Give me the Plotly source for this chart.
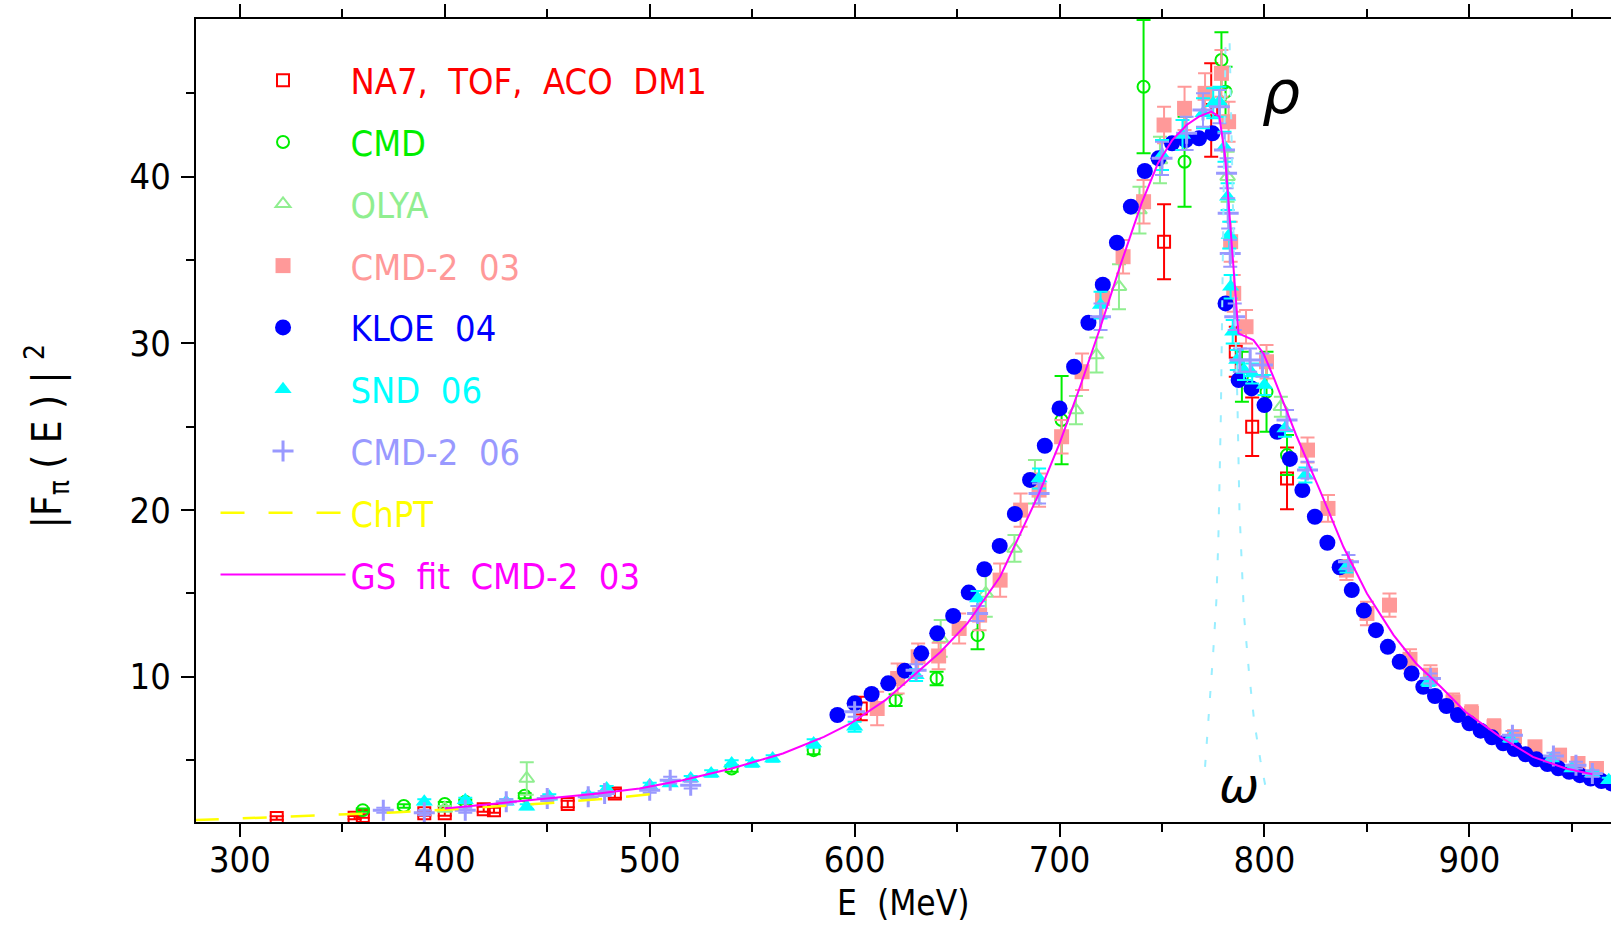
import plotly.graph_objects as go

FONT = "Liberation Sans Narrow, DejaVu Sans Condensed, Arial Narrow, Liberation Sans, sans-serif"

# ---------------- data (E in MeV, |F_pi|^2) ----------------
na7_E = [318, 356, 360, 390, 400, 419, 424, 460, 483, 603, 751, 774, 786, 794, 811]
na7_V = [1.53, 1.55, 1.65, 1.81, 1.81, 2.05, 2.0, 2.37, 3.0, 8.1, 36.1, 44.0, 29.5, 25.0, 21.9]
na7_err = [0.1, 0.1, 0.1, 0.15, 0.15, 0.15, 0.15, 0.2, 0.25, 0.7, 2.25, 2.8, 1.5, 1.75, 1.85]

cmd_E = [360, 380, 400, 410, 439, 540, 580, 620, 640, 660, 701, 741, 761, 779, 781, 789, 801, 811]
cmd_V = [2.0, 2.25, 2.37, 2.5, 2.87, 4.5, 5.6, 8.6, 9.9, 12.5, 25.4, 45.4, 40.9, 47.0, 45.1, 28.0, 27.1, 23.3]
cmd_err = [0.1, 0.1, 0.12, 0.12, 0.15, 0.2, 0.25, 0.35, 0.4, 0.85, 2.65, 4.0, 2.7, 1.66, 1.5, 1.5, 2.4, 1.2]

olya_E = [400, 440, 642, 664, 678, 688, 708, 718, 729, 739, 749, 782, 808]
olya_V = [2.1, 3.9, 12.3, 15.0, 17.7, 21.7, 26.0, 29.3, 33.4, 38.0, 41.0, 40.0, 26.2]
olya_err = [0.15, 0.97, 1.1, 1.4, 0.8, 1.3, 0.85, 1.05, 1.35, 1.4, 1.4, 1.5, 0.6]

cmd203_E = [611, 621, 631, 641, 651, 661, 671, 681, 690, 701, 711, 721, 731, 741, 751, 761, 771,
            779, 782.5, 783.5, 785, 791, 801, 821, 831, 840, 850, 861, 871, 881, 892, 901, 912,
            922, 932, 944, 953, 962]
cmd203_V = [8.1, 9.9, 11.2, 11.25, 12.9, 13.7, 15.8, 20.0, 21.2, 24.4, 28.3, 32.7, 35.2, 38.5,
            43.1, 44.1, 45.0, 46.2, 43.3, 36.1, 33.0, 31.0, 28.9, 23.6, 20.1, 16.4, 13.8, 14.3,
            11.05, 10.1, 8.5, 7.8, 7.0, 6.4, 5.8, 5.3, 4.8, 4.5]
cmd203_err = [1.0, 0.9, 0.8, 0.8, 0.9, 0.9, 1.0, 1.0, 1.0, 1.0, 1.1, 1.1, 1.0, 1.3, 1.1, 1.3,
              1.2, 1.4, 1.2, 1.2, 1.1, 1.0, 1.0, 0.75, 0.8, 0.6, 0.7, 0.7, 0.6, 0.6, 0.5, 0.5,
              0.45, 0.4, 0.35, 0.35, 0.3, 0.3]

kloe_E = [591.6, 600.0, 608.3, 616.4, 624.5, 632.5, 640.3, 648.1, 655.7, 663.3, 670.8, 678.2,
          685.6, 692.8, 700.0, 707.1, 714.1, 721.1, 728.0, 734.8, 741.6, 748.3, 754.9, 761.6,
          768.1, 774.6, 781.0, 787.4, 793.7, 800.0, 806.2, 812.4, 818.5, 824.6, 830.7, 836.7,
          842.6, 848.5, 854.4, 860.2, 866.0, 871.8, 877.5, 883.2, 888.8, 894.4, 900.0, 905.5,
          911.0, 916.5, 922.0, 927.4, 932.7, 938.1, 943.4, 948.7, 953.9, 959.2, 964.4, 969.5]
kloe_V = [7.71, 8.41, 8.97, 9.61, 10.37, 11.41, 12.61, 13.65, 15.05, 16.45, 17.85, 19.77,
          21.81, 23.86, 26.1, 28.6, 31.24, 33.52, 36.04, 38.2, 40.34, 41.1, 42.0, 42.2,
          42.3, 42.6, 32.4, 27.8, 27.3, 26.3, 24.7, 23.07, 21.2, 19.6, 18.04, 16.57,
          15.2, 13.97, 12.8, 11.8, 10.9, 10.2, 9.4, 8.85, 8.25, 7.71, 7.21, 6.77,
          6.37, 6.01, 5.67, 5.35, 5.05, 4.77, 4.51, 4.3, 4.1, 3.9, 3.75, 3.6]

snd_E = [390, 410, 430, 440, 451, 470, 479, 500, 510, 520, 530, 540, 550, 560, 580, 600, 630,
         660, 690, 720, 750, 760, 770, 775, 778, 780.5, 782, 782.8, 783.5, 784.5, 786.5, 790,
         794, 800, 810, 820, 840, 880, 920, 940, 950, 960, 968]
snd_V = [2.5, 2.6, 2.5, 2.2, 2.8, 2.9, 3.3, 3.5, 3.6, 3.9, 4.2, 4.8, 4.8, 5.1, 6.0, 7.0, 10.1,
         14.7, 21.9, 32.3, 41.3, 42.5, 43.8, 44.4, 44.5, 41.8, 38.8, 36.5, 33.4, 30.7, 29.0,
         28.4, 28.2, 27.5, 24.9, 22.1, 16.6, 9.7, 6.3, 5.1, 4.5, 4.2, 3.8]
snd_err = [0.15, 0.15, 0.15, 0.15, 0.15, 0.15, 0.15, 0.15, 0.15, 0.15, 0.2, 0.2, 0.2, 0.2,
           0.25, 0.3, 0.35, 0.45, 0.6, 0.8, 0.9, 0.9, 0.9, 0.9, 0.9, 0.9, 0.8, 0.8, 0.7, 0.7,
           0.6, 0.6, 0.6, 0.6, 0.5, 0.45, 0.35, 0.25, 0.2, 0.15, 0.15, 0.15, 0.15]

cmd206_E = [370, 390, 410, 430, 450, 470, 478, 500, 510, 520, 600, 630, 660, 690, 720, 750, 762,
            770, 778, 780.5, 781.5, 782.3, 783.3, 785.5, 788, 793, 799, 811, 821, 841, 881, 921,
            941, 952, 960]
cmd206_V = [2.0, 1.85, 2.0, 2.5, 2.7, 2.8, 3.0, 3.2, 3.8, 3.5, 7.9, 10.4, 13.8, 21.0, 31.6,
            41.1, 42.6, 44.0, 44.2, 41.6, 40.2, 37.8, 35.4, 31.6, 29.0, 29.0, 28.7, 25.4, 22.4,
            16.9, 9.9, 6.5, 5.25, 4.7, 4.2]
cmd206_err = [0.15, 0.15, 0.15, 0.15, 0.15, 0.15, 0.15, 0.15, 0.2, 0.2, 0.3, 0.35, 0.45, 0.6,
              0.8, 1.0, 1.0, 1.0, 1.0, 1.0, 0.9, 0.9, 0.8, 0.8, 0.7, 0.7, 0.7, 0.6, 0.5, 0.4,
              0.3, 0.25, 0.2, 0.2, 0.2]

chpt_E = [278, 300, 325, 350, 375, 400, 425, 450, 475, 500]
chpt_V = [1.40, 1.50, 1.60, 1.72, 1.86, 2.02, 2.20, 2.42, 2.65, 2.95]

gs_E = [400, 425, 450, 475, 495, 516, 540, 565, 585, 598, 615, 630, 642, 655, 671, 690, 700,
        710, 720, 730, 740, 748, 755, 762, 768, 774, 778, 780.8, 783.2, 785.7, 787.3, 794.6,
        799.5, 805, 815.8, 827, 838.5, 850, 863, 874, 886, 898, 915, 931, 947, 960]
gs_V = [2.1, 2.4, 2.7, 3.0, 3.3, 3.8, 4.5, 5.4, 6.4, 7.2, 8.6, 10.2, 11.5, 13.2, 16.0, 21.0,
        24.0, 27.4, 31.0, 34.8, 38.4, 40.8, 42.2, 43.1, 43.6, 43.9, 43.6, 41.2, 37.2, 33.2,
        30.6, 30.2, 29.4, 27.8, 24.4, 21.2, 17.8, 15.0, 12.5, 10.8, 9.4, 7.9, 6.4, 5.2, 4.5,
        4.15]

omega_left_E = [771, 773, 775, 776.5, 777.5, 778.7, 779.2, 780, 781]
omega_left_V = [4.6, 7.8, 11.5, 14.5, 18.3, 25.6, 30.2, 38.0, 48.0]
omega_right_E = [783, 784.5, 786, 786.8, 787.8, 790, 792.5, 795, 798, 801]
omega_right_V = [48.0, 38.0, 30.0, 26.5, 20.0, 13.7, 10.2, 7.3, 5.0, 3.1]

x_range = [278.6, 969.1]
y_range = [1.29, 49.46]

# ---------------- figure ----------------
fig = go.Figure()


def lbl(text, color):
    return '<span style="color:%s">%s</span>' % (color, text)


def points(E, V, err, name, color, symbol, size, lw=2, group=None):
    kw = dict(x=E, y=V, mode="markers", name=lbl(name, color), legendgroup=group or name,
              marker=dict(symbol=symbol, size=size, color=color,
                          line=dict(color=color, width=lw)))
    if err is not None:
        kw["error_y"] = dict(type="data", array=err, visible=True, color=color,
                             thickness=2, width=7)
    fig.add_trace(go.Scatter(**kw))


points(na7_E, na7_V, na7_err, "NA7,  TOF,  ACO  DM1", "#FF0000", "square-open", 12)
points(cmd_E, cmd_V, cmd_err, "CMD", "#00EE00", "circle-open", 12)
points(olya_E, olya_V, olya_err, "OLYA", "#90EE90", "triangle-up-open", 13)
points(cmd203_E, cmd203_V, cmd203_err, "CMD-2  03", "#FF9999", "square", 15, lw=0)
points(kloe_E, kloe_V, None, "KLOE  04", "#0000FF", "circle", 16, lw=0)
points(snd_E, snd_V, snd_err, "SND  06", "#00FFFF", "triangle-up", 15, lw=0)
points(cmd206_E, cmd206_V, cmd206_err, "CMD-2  06", "#9999FF", "cross-thin", 15, lw=3)

for oe, ov in ((omega_left_E, omega_left_V), (omega_right_E, omega_right_V)):
    fig.add_trace(go.Scatter(x=oe, y=ov, mode="lines", showlegend=False, hoverinfo="skip",
                             line=dict(color="#99EEFF", width=2, dash="7px,16px")))

fig.add_trace(go.Scatter(x=chpt_E, y=chpt_V, mode="lines", name=lbl("ChPT", "#FFFF00"),
                         legendgroup="chpt",
                         line=dict(color="#FFFF00", width=2.5, dash="24px,24px")))
fig.add_trace(go.Scatter(x=gs_E, y=gs_V, mode="lines", name=lbl("GS  fit  CMD-2  03", "#FF00FF"),
                         legendgroup="gs", line=dict(color="#FF00FF", width=2)))

fig.add_annotation(x=808, y=45.1, text="<i>ρ</i>", showarrow=False,
                   font=dict(family="DejaVu Sans", size=60, color="black"))
fig.add_annotation(x=787.5, y=3.5, text="<i>ω</i>", showarrow=False,
                   font=dict(family="DejaVu Sans", size=48, color="black"))

# axis titles
fig.add_annotation(xref="paper", yref="paper", x=0.5, y=-0.101, xanchor="center",
                   yanchor="middle", text="E  (MeV)", showarrow=False,
                   font=dict(family=FONT, size=35, color="black"))
fig.add_annotation(xref="paper", yref="paper", x=-0.1056, y=0.48, xanchor="center",
                   yanchor="middle", textangle=-90, showarrow=False,
                   text="|F<sub>π</sub> ( E ) | <sup>2</sup>",
                   font=dict(family=FONT, size=40, color="black"))

axis_common = dict(showgrid=False, zeroline=False, showline=True, linecolor="black",
                   linewidth=2, ticks="outside", ticklen=13, tickwidth=2, tickcolor="black",
                   automargin=False,
                   tickfont=dict(family=FONT, size=36, color="black"))

fig.update_xaxes(range=x_range, dtick=100, tick0=0, mirror="ticks",
                 minor=dict(dtick=50, ticklen=8, tickwidth=2, tickcolor="black", ticks="outside"),
                 ticklabelstandoff=-8,
                 **axis_common)
fig.update_yaxes(range=y_range, dtick=10, tick0=0,
                 minor=dict(dtick=5, ticklen=8, tickwidth=2, tickcolor="black", ticks="outside"),
                 ticklabelstandoff=3,
                 **axis_common)

fig.update_layout(
    width=1611, height=925,
    margin=dict(l=196, r=0, t=19, b=103),
    paper_bgcolor="white", plot_bgcolor="white",
    font=dict(family=FONT, size=36, color="black"),
    legend=dict(x=0.0138, y=0.961, xanchor="left", yanchor="top", bgcolor="rgba(0,0,0,0)",
                font=dict(family=FONT, size=36), tracegroupgap=12, itemwidth=125,
                traceorder="grouped"),
    showlegend=True,
)

fig.write_html("out.html", config={"displayModeBar": False},
               post_script="document.body.style.margin='0';document.body.style.overflow='hidden';")
